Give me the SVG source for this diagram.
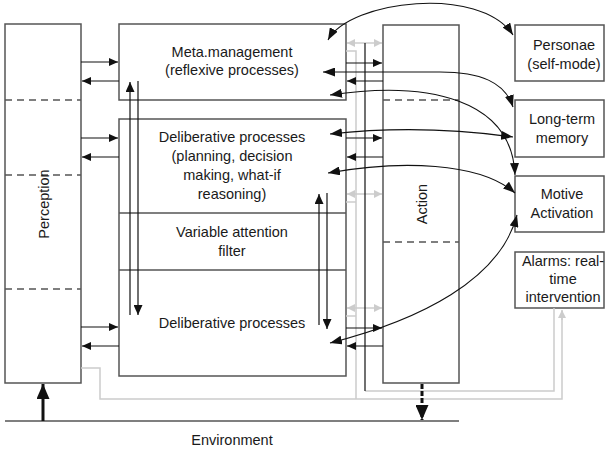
<svg xmlns="http://www.w3.org/2000/svg" width="605" height="455" viewBox="0 0 605 455">
<style>
.box{fill:#fff;stroke:#555;stroke-width:1.5}
.dash{stroke:#555;stroke-width:1.3;stroke-dasharray:7,5;fill:none}
.sep{stroke:#555;stroke-width:1.3;fill:none}
.t{font-family:"Liberation Sans",Arial,sans-serif;font-size:14.5px;fill:#1a1a1a;text-anchor:middle}
.a{stroke:#111;stroke-width:1.2;fill:none;marker-end:url(#ah)}
.c{stroke:#111;stroke-width:1.1;fill:none;marker-start:url(#ahl);marker-end:url(#ahl)}
.v{stroke:#111;stroke-width:1.2;fill:none}
.g{stroke:#ccc;stroke-width:1.5;fill:none}
.gd{stroke:#ccc;stroke-width:1.5;fill:none;marker-start:url(#ahg);marker-end:url(#ahg)}
</style>
<defs>
<marker id="ah" markerUnits="userSpaceOnUse" markerWidth="9" markerHeight="8" refX="9" refY="4" orient="auto-start-reverse"><path d="M0,0 L9,4 L0,8 z" fill="#111"/></marker>
<marker id="ahl" markerUnits="userSpaceOnUse" markerWidth="12" markerHeight="9" refX="12" refY="4.5" orient="auto-start-reverse"><path d="M0,0 L12,4.5 L0,9 z" fill="#111"/></marker>
<marker id="ahv" markerUnits="userSpaceOnUse" markerWidth="10" markerHeight="9" refX="10" refY="4.5" orient="auto-start-reverse"><path d="M0,0 L10,4.5 L0,9 z" fill="#111"/></marker>
<marker id="ahg" markerUnits="userSpaceOnUse" markerWidth="8" markerHeight="8" refX="8" refY="4" orient="auto-start-reverse"><path d="M0,0 L8,4 L0,8 z" fill="#ccc"/></marker>
<marker id="ahb" markerUnits="userSpaceOnUse" markerWidth="15" markerHeight="13" refX="15" refY="6.5" orient="auto-start-reverse"><path d="M0,0 L15,6.5 L0,13 z" fill="#111"/></marker>
</defs>

<g id="perception">
<rect class="box" x="5" y="24" width="76" height="359"/>
<line class="dash" x1="5" y1="100" x2="81" y2="100"/>
<line class="dash" x1="5" y1="175" x2="81" y2="175"/>
<line class="dash" x1="5" y1="289" x2="81" y2="289"/>
<text class="t" transform="translate(49,204) rotate(-90)">Perception</text>
</g>

<g id="meta">
<rect class="box" x="119" y="24" width="227" height="76"/>
<text class="t" x="232" y="57">Meta.management</text>
<text class="t" x="232" y="75">(reflexive processes)</text>
</g>

<g id="delib">
<rect class="box" x="119" y="119" width="227" height="257"/>
<line class="sep" x1="119" y1="213" x2="346" y2="213"/>
<line class="sep" x1="119" y1="270" x2="346" y2="270"/>
<text class="t" x="232" y="142">Deliberative processes</text>
<text class="t" x="232" y="161">(planning, decision</text>
<text class="t" x="232" y="180">making, what-if</text>
<text class="t" x="232" y="199">reasoning)</text>
<text class="t" x="232" y="237">Variable attention</text>
<text class="t" x="232" y="256">filter</text>
<text class="t" x="232" y="328">Deliberative processes</text>
</g>

<g id="action">
<rect class="box" x="383" y="25" width="76" height="358"/>
<line class="dash" x1="383" y1="100" x2="459" y2="100"/>
<line class="dash" x1="383" y1="242" x2="459" y2="242"/>
<text class="t" transform="translate(427,204) rotate(-90)">Action</text>
</g>

<g id="personae">
<rect class="box" x="515" y="25" width="89" height="56"/>
<text class="t" x="564" y="50">Personae</text>
<text class="t" x="564" y="69">(self-mode)</text>
</g>

<g id="ltm">
<rect class="box" x="515" y="100" width="89" height="57"/>
<text class="t" x="562" y="124">Long-term</text>
<text class="t" x="562" y="143">memory</text>
</g>

<g id="motive">
<rect class="box" x="515" y="176" width="89" height="56"/>
<text class="t" x="562" y="199">Motive</text>
<text class="t" x="562" y="218">Activation</text>
</g>

<g id="alarms">
<rect class="box" x="515" y="252" width="89" height="56"/>
<text class="t" x="563" y="266">Alarms: real-</text>
<text class="t" x="563" y="284">time</text>
<text class="t" x="563" y="302">intervention</text>
</g>

<g id="environment">
<line x1="5" y1="421" x2="459" y2="421" stroke="#555" stroke-width="1.5"/>
<text class="t" x="232" y="445">Environment</text>
</g>

<g id="connectors">
<path class="g" d="M81,368 H100 V399 H562 V311"/>
<line x1="562" y1="320" x2="562" y2="310" stroke="#ccc" stroke-width="1.5" marker-end="url(#ahg)"/>
<path class="g" d="M346,51 H356 V399"/>
<path class="g" d="M346,202 H356"/>
<path class="g" d="M346,316 H356"/>
<path class="g" d="M365,391 H554 V308"/>
<line class="gd" x1="347" y1="43" x2="382" y2="43"/>
<line class="gd" x1="347" y1="194" x2="382" y2="194"/>
<line class="gd" x1="347" y1="308" x2="382" y2="308"/>
<line class="v" x1="365" y1="43" x2="365" y2="391"/>

<line class="a" x1="81" y1="62" x2="118" y2="62"/>
<line class="a" x1="119" y1="81" x2="82" y2="81"/>
<line class="a" x1="81" y1="138" x2="118" y2="138"/>
<line class="a" x1="119" y1="157" x2="82" y2="157"/>
<line class="a" x1="81" y1="327" x2="118" y2="327"/>
<line class="a" x1="119" y1="346" x2="82" y2="346"/>

<line class="a" x1="346" y1="63" x2="382" y2="63"/>
<line class="a" x1="383" y1="81" x2="347" y2="81"/>
<line class="a" x1="346" y1="138" x2="382" y2="138"/>
<line class="a" x1="383" y1="157" x2="347" y2="157"/>
<line class="a" x1="346" y1="328" x2="382" y2="328"/>
<line class="a" x1="383" y1="346" x2="347" y2="346"/>

<line x1="130" y1="315" x2="130" y2="82" stroke="#111" stroke-width="1.2" marker-end="url(#ahv)"/>
<line x1="138" y1="81" x2="138" y2="315" stroke="#111" stroke-width="1.2" marker-end="url(#ahv)"/>
<line x1="319" y1="325" x2="319" y2="194" stroke="#111" stroke-width="1.2" marker-end="url(#ahv)"/>
<line x1="327" y1="193" x2="327" y2="329" stroke="#111" stroke-width="1.2" marker-end="url(#ahv)"/>

<path class="c" d="M328,40 C350,0 480,-15 513,35"/>
<path class="c" d="M323,72 L440,72 C480,72 505,82 513,107"/>
<path class="c" d="M330,95 C430,80 512,100 515,175"/>
<path class="c" d="M330,134 Q420,124 513,137"/>
<path class="c" d="M328,173 C400,160 480,162 515,193"/>
<path class="c" d="M330,343 C420,320 500,280 517,215"/>

<line x1="43" y1="421" x2="43" y2="384" stroke="#111" stroke-width="3" marker-end="url(#ahb)"/>
<line x1="422" y1="384" x2="422" y2="420" stroke="#111" stroke-width="3" stroke-dasharray="5,2" marker-end="url(#ahb)"/>
</g>
</svg>
